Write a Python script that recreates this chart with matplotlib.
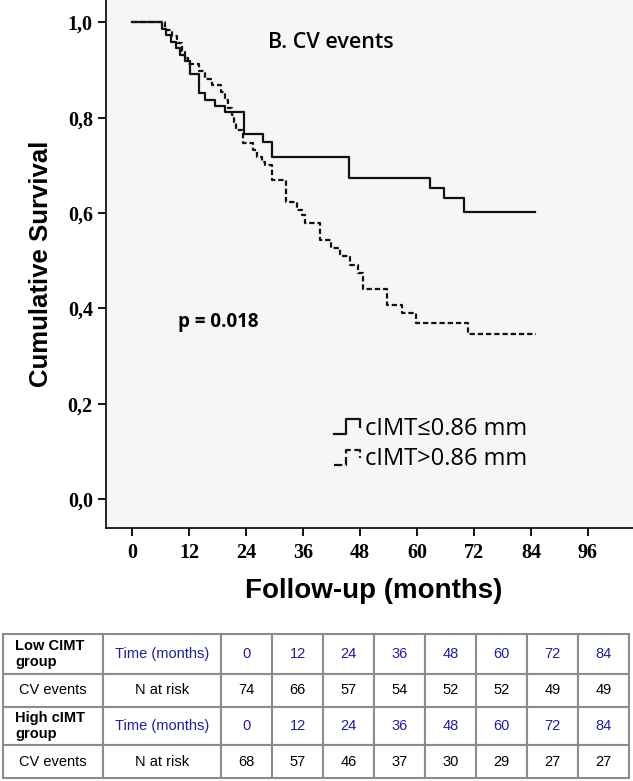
import numpy as np
import matplotlib
matplotlib.use("Agg")
import matplotlib.pyplot as plt
from matplotlib.lines import Line2D
from matplotlib.legend_handler import HandlerBase

# Kaplan-Meier steps (months, cumulative survival)
low_t = [0, 6.3, 7.2, 8.2, 9.2, 10.2, 11.2, 12.2, 14.2, 15.4, 17.5, 19.6,
         23.6, 27.6, 29.5, 45.6, 62.7, 65.7, 70.0, 84.9]
low_s = [1.0, 0.986, 0.973, 0.959, 0.946, 0.932, 0.919, 0.892, 0.851, 0.838,
         0.824, 0.811, 0.766, 0.748, 0.717, 0.674, 0.653, 0.631, 0.603, 0.603]

high_t = [0, 7.0, 8.4, 9.4, 10.5, 11.2, 11.9, 14.1, 15.4, 16.8, 18.7, 19.6,
          20.3, 21.1, 21.4, 21.9, 23.4, 25.5, 26.3, 27.3, 28.0, 29.4, 32.4,
          34.7, 35.7, 36.4, 39.6, 42.0, 43.8, 45.9, 47.6, 48.7, 53.8, 56.8,
          59.8, 70.8, 85.0]
high_s = [1.0, 0.985, 0.971, 0.956, 0.941, 0.926, 0.912, 0.897, 0.882, 0.868,
          0.853, 0.838, 0.820, 0.806, 0.792, 0.774, 0.746, 0.732, 0.718, 0.708,
          0.701, 0.669, 0.624, 0.607, 0.596, 0.579, 0.544, 0.526, 0.509, 0.491,
          0.474, 0.440, 0.406, 0.390, 0.370, 0.346, 0.346]

labels = ["cIMT\u22640.86 mm", "cIMT>0.86 mm"]

x_ticks = [0, 12, 24, 36, 48, 60, 72, 84, 96]
y_ticks = [0.0, 0.2, 0.4, 0.6, 0.8, 1.0]

# number at risk table
risk_times = [0, 12, 24, 36, 48, 60, 72, 84]
low_risk = [74, 66, 57, 54, 52, 52, 49, 49]
high_risk = [68, 57, 46, 37, 30, 29, 27, 27]


class StepHandler(HandlerBase):
    """legend key drawn as a small step, like SPSS does"""
    def create_artists(self, legend, orig_handle, xdescent, ydescent,
                       width, height, fontsize, trans):
        x0 = -xdescent
        xs = [x0, x0 + 0.45 * width, x0 + 0.45 * width, x0 + width, x0 + width]
        ys = [0.05 * height, 0.05 * height, 0.95 * height, 0.95 * height, 0.45 * height]
        ln = Line2D(xs, ys, color=orig_handle.get_color(),
                    linestyle=orig_handle.get_linestyle(),
                    linewidth=orig_handle.get_linewidth())
        ln.set_transform(trans)
        return [ln]


fig = plt.figure(figsize=(6.33, 7.81), dpi=100)
fig.patch.set_facecolor("white")

ax = fig.add_axes([106 / 633, 253 / 781, 527 / 633, 528 / 781])
ax.set_facecolor("#f6f6f6")

l1, = ax.step(low_t, low_s, where="post", color="#111111", lw=1.6)
l2, = ax.step(high_t, high_s, where="post", color="#111111", lw=1.6,
              linestyle=(0, (2.4, 1.3)))

ax.set_xlim(-5.47, 105.5)
ax.set_ylim(-0.061, 1.047)
ax.set_xticks(x_ticks)
ax.set_yticks(y_ticks)
ax.set_yticklabels([("%.1f" % v).replace(".", ",") for v in y_ticks])
for s in ["top", "right"]:
    ax.spines[s].set_visible(False)
for s in ["left", "bottom"]:
    ax.spines[s].set_linewidth(1.2)
ax.tick_params(length=6, width=1.3, direction="out")
ax.tick_params(axis="x", pad=5)
for lab in ax.get_xticklabels() + ax.get_yticklabels():
    lab.set_fontfamily("Liberation Serif")
    lab.set_fontweight("bold")
    lab.set_fontsize(14.5)

ax.set_ylabel("Cumulative Survival", family="Liberation Sans", weight="bold", fontsize=18.5)
ax.yaxis.set_label_coords(-0.10, 0.5)
ax.set_xlabel("Follow-up (months)", family="Liberation Sans", weight="bold", fontsize=20)
ax.xaxis.set_label_coords(0.507, -0.095)

ax.text(0.308, 0.92, "B. CV events", transform=ax.transAxes, family="Open Sans",
        weight="semibold", fontsize=15.5, va="center")
ax.text(0.137, 0.39, "p = 0.018", transform=ax.transAxes, family="Open Sans",
        weight="bold", fontsize=13.5, va="center")

leg = ax.legend([l1, l2], labels, loc="upper left", bbox_to_anchor=(0.392, 0.251),
                frameon=False, handler_map={Line2D: StepHandler()},
                handlelength=1.1, handletextpad=0.2, labelspacing=0.28,
                prop={"family": ["Open Sans", "DejaVu Sans"], "size": 17})

# table with the numbers at risk
tax = fig.add_axes([3 / 633, 3 / 781, 626 / 633, 144 / 781])
tax.axis("off")
cells = [["Low CIMT\ngroup", "Time (months)"] + [str(t) for t in risk_times],
         ["CV events", "N at risk"] + [str(n) for n in low_risk],
         ["High cIMT\ngroup", "Time (months)"] + [str(t) for t in risk_times],
         ["CV events", "N at risk"] + [str(n) for n in high_risk]]
col_w = [100, 118] + [51] * 8
tab = tax.table(cellText=cells, colWidths=[w / sum(col_w) for w in col_w],
                bbox=[0, 0, 1, 1], cellLoc="center")
tab.auto_set_font_size(False)
row_h = [36, 30, 35, 30]
for (r, c), cell in tab.get_celld().items():
    cell.set_height(row_h[r])
    cell.set_edgecolor("#8c8c8c")
    cell.set_linewidth(1.5)
    txt = cell.get_text()
    txt.set_fontsize(10.5)
    txt.set_family("Liberation Sans")
    if r in (0, 2) and c > 0:
        txt.set_color("#1f1fa0")
    if r in (0, 2) and c == 0:
        txt.set_weight("bold")
        txt.set_ha("left")
        cell._loc = "left"
        cell.PAD = 0.12

fig.savefig("out.png", dpi=100)
